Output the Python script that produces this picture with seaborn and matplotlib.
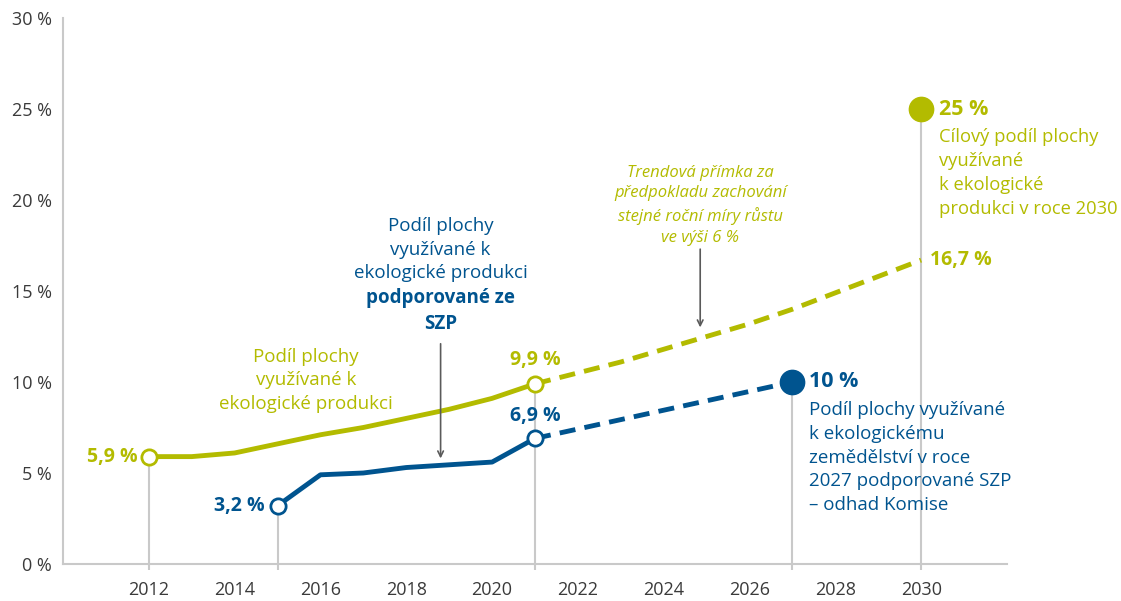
import matplotlib
matplotlib.use("Agg")
import matplotlib.pyplot as plt
import seaborn as sns

# data (share of organic farming area, %)
years_total = [2012, 2013, 2014, 2015, 2016, 2017, 2018, 2019, 2020, 2021]
share_total = [5.9, 5.9, 6.1, 6.6, 7.1, 7.5, 8.0, 8.5, 9.1, 9.9]

years_trend = [2021, 2022, 2023, 2024, 2025, 2026, 2027, 2028, 2029, 2030]
share_trend = [9.9, 10.5, 11.1, 11.8, 12.5, 13.2, 14.0, 14.9, 15.8, 16.7]

years_cap = [2015, 2016, 2017, 2018, 2019, 2020, 2021]
share_cap = [3.2, 4.9, 5.0, 5.3, 5.45, 5.6, 6.9]

years_cap_est = [2021, 2027]
share_cap_est = [6.9, 10.0]

target_year = 2030
target_share = 25.0

x_ticks = list(range(2012, 2031, 2))
y_ticks = [0, 5, 10, 15, 20, 25, 30]

GREEN = "#b3bb00"
BLUE = "#00548f"
GREY = "#c9c9c9"
TEXT = "#3a3a3a"

sns.set_style("white")
plt.rcParams["font.family"] = ["Open Sans", "DejaVu Sans"]

fig = plt.figure(figsize=(11.21, 6.01), dpi=100)
ax = fig.add_axes([0.0562, 0.0616, 0.8421, 0.9084])

# grey drop lines from labelled points to the axis
drop_x = [years_total[0], years_cap[0], years_total[-1], years_cap_est[-1], target_year]
drop_y = [share_total[0], share_cap[0], share_total[-1], share_cap_est[-1], target_share]
ax.vlines(drop_x, -0.35, drop_y, color=GREY, lw=1.5, zorder=1, clip_on=False)

# lines
sns.lineplot(x=years_total, y=share_total, color=GREEN, lw=3.5, ax=ax, zorder=3)
sns.lineplot(x=years_trend, y=share_trend, color=GREEN, lw=3.5, ax=ax, zorder=3,
             linestyle=(0, (3.3, 1.9)))
sns.lineplot(x=years_cap, y=share_cap, color=BLUE, lw=3.5, ax=ax, zorder=3)
sns.lineplot(x=years_cap_est, y=share_cap_est, color=BLUE, lw=3.5, ax=ax, zorder=3,
             linestyle=(0, (3.3, 1.9)))

# open markers
ax.plot([years_total[0], years_total[-1]], [share_total[0], share_total[-1]], "o",
        ms=11, mfc="white", mec=GREEN, mew=2, zorder=4)
ax.plot([years_cap[0], years_cap[-1]], [share_cap[0], share_cap[-1]], "o",
        ms=11, mfc="white", mec=BLUE, mew=2, zorder=4)
# filled target markers
ax.plot([target_year], [target_share], "o", ms=17.5, color=GREEN, zorder=4)
ax.plot([years_cap_est[-1]], [share_cap_est[-1]], "o", ms=17.5, color=BLUE, zorder=4)

# axes styling
ax.set_xlim(2010, 2032)
ax.set_ylim(0, 30)
ax.set_xticks(x_ticks)
ax.set_yticks(y_ticks)
ax.set_yticklabels([f"{v} %" for v in y_ticks])
ax.tick_params(axis="both", length=0, labelsize=13, colors=TEXT)
ax.tick_params(axis="x", pad=12)
ax.tick_params(axis="y", pad=8)
for s in ["top", "right"]:
    ax.spines[s].set_visible(False)
for s in ["left", "bottom"]:
    ax.spines[s].set_color(GREY)
    ax.spines[s].set_linewidth(1.5)

# value labels
bold = dict(fontweight="bold", fontsize=14)
ax.annotate("5,9 %", (years_total[0], share_total[0]), xytext=(-8, 0),
            textcoords="offset points", ha="right", va="center", color=GREEN, **bold)
ax.annotate("3,2 %", (years_cap[0], share_cap[0]), xytext=(-9, 0),
            textcoords="offset points", ha="right", va="center", color=BLUE, **bold)
ax.annotate("9,9 %", (years_total[-1], share_total[-1]), xytext=(0, 17),
            textcoords="offset points", ha="center", va="center", color=GREEN, **bold)
ax.annotate("6,9 %", (years_cap[-1], share_cap[-1]), xytext=(0, 16),
            textcoords="offset points", ha="center", va="center", color=BLUE, **bold)
ax.annotate("16,7 %", (years_trend[-1], share_trend[-1]), xytext=(6, 0),
            textcoords="offset points", ha="left", va="center", color=GREEN, **bold)
ax.annotate("25 %", (target_year, target_share), xytext=(13, 0),
            textcoords="offset points", ha="left", va="center", color=GREEN,
            fontweight="bold", fontsize=15.5)
ax.annotate("10 %", (years_cap_est[-1], share_cap_est[-1]), xytext=(12, 0),
            textcoords="offset points", ha="left", va="center", color=BLUE,
            fontweight="bold", fontsize=15.5)

# descriptive texts
body = dict(fontsize=13.5, linespacing=1.4)
ax.annotate("Cílový podíl plochy\nvyužívané\nk ekologické\nprodukci v roce 2030",
            (target_year, target_share), xytext=(13, -14), textcoords="offset points",
            ha="left", va="top", color=GREEN, fontsize=13.2, linespacing=1.42)
ax.annotate("Podíl plochy využívané\nk ekologickému\nzemědělství v roce\n"
            "2027 podporované SZP\n– odhad Komise",
            (years_cap_est[-1], share_cap_est[-1]), xytext=(12, -14),
            textcoords="offset points", ha="left", va="top", color=BLUE, **body)
ax.text(2015.67, 11.88, "Podíl plochy\nvyužívané k\nekologické produkci",
        ha="center", va="top", color=GREEN, **body)
ax.text(2018.8, 19.07, "Podíl plochy\nvyužívané k\nekologické produkci",
        ha="center", va="top", color=BLUE, **body)
ax.text(2018.8, 15.14, "podporované ze\nSZP", ha="center", va="top",
        color=BLUE, fontweight="bold", **body)
ax.text(2024.85, 21.95, "Trendová přímka za\npředpokladu zachování\n"
        "stejné roční míry růstu\nve výši 6 %", ha="center", va="top",
        color=GREEN, style="italic", fontsize=12, linespacing=1.4)

# arrows
arrow = dict(arrowstyle="->", color="#5a5a5a", lw=1.2, shrinkA=0, shrinkB=0)
ax.annotate("", xy=(2018.8, 5.8), xytext=(2018.8, 12.1), arrowprops=arrow)
ax.annotate("", xy=(2024.85, 13.0), xytext=(2024.85, 17.3), arrowprops=arrow)

fig.savefig("out.png", dpi=100)
